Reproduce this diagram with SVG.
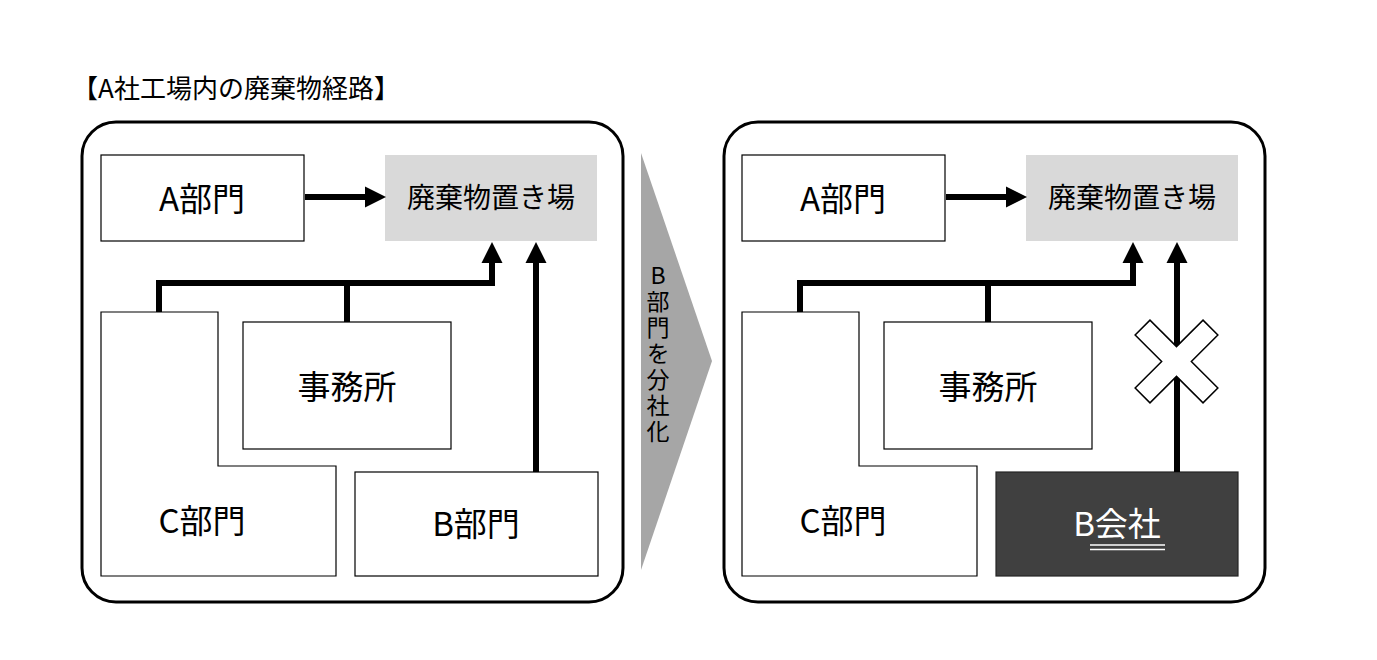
<svg xmlns="http://www.w3.org/2000/svg" width="1377" height="660" viewBox="0 0 1377 660">
<defs>
<style>
.t{font-family:"Noto Sans CJK JP","Noto Sans",sans-serif;fill:#000;}
.lbl{font-size:33px;text-anchor:middle;dominant-baseline:central;}
.glbl{font-size:28px;text-anchor:middle;dominant-baseline:central;}
.panel{fill:#fff;stroke:#000;stroke-width:3;}
.box{fill:#fff;stroke:#000;stroke-width:1.2;}
.gray{fill:#d9d9d9;stroke:none;}
.con{fill:none;stroke:#000;stroke-width:6;stroke-linejoin:miter;}
</style>
<marker id="ah" markerUnits="userSpaceOnUse" markerWidth="22" markerHeight="22" refX="0" refY="10.5" orient="auto" overflow="visible">
<path d="M0,0 L21,10.5 L0,21 Z" fill="#000"/>
</marker>
</defs>
<rect width="1377" height="660" fill="#fff"/>
<text class="t" x="236" y="86" font-size="26" text-anchor="middle" dominant-baseline="central">【A社工場内の廃棄物経路】</text>

<g id="panel-left">
<rect class="panel" x="82" y="122" width="541" height="480" rx="34"/>
</g>
<g id="left-a">
<rect class="box" x="101" y="155" width="203" height="86"/>
<text class="t lbl" x="202" y="197">A部門</text>
</g>
<g id="left-dump">
<rect class="gray" x="385" y="155" width="212" height="86"/>
<text class="t glbl" x="491" y="196">廃棄物置き場</text>
</g>
<g id="left-c">
<path class="box" d="M101,312 H218 V466 H336 V576 H101 Z"/>
<text class="t lbl" x="202" y="519">C部門</text>
</g>
<g id="left-office">
<rect class="box" x="243" y="322" width="208" height="127"/>
<text class="t lbl" x="347" y="385">事務所</text>
</g>
<g id="left-b">
<rect class="box" x="355" y="472" width="243" height="104"/>
<text class="t lbl" x="476" y="522">B部門</text>
</g>

<g id="transition">
<polygon points="641,153 712,361 641,570" fill="#a6a6a6"/>
<text class="t" x="658" y="355" font-size="23" text-anchor="middle" style="writing-mode:vertical-rl;text-orientation:upright;letter-spacing:3px">B部門を分社化</text>
</g>

<g id="panel-right">
<rect class="panel" x="724" y="122" width="541" height="480" rx="34"/>
</g>
<g id="right-a">
<rect class="box" x="742" y="155" width="203" height="86"/>
<text class="t lbl" x="843" y="197">A部門</text>
</g>
<g id="right-dump">
<rect class="gray" x="1026" y="155" width="212" height="86"/>
<text class="t glbl" x="1132" y="196">廃棄物置き場</text>
</g>
<g id="right-c">
<path class="box" d="M742,312 H859 V466 H977 V576 H742 Z"/>
<text class="t lbl" x="843" y="519">C部門</text>
</g>
<g id="right-office">
<rect class="box" x="884" y="322" width="208" height="127"/>
<text class="t lbl" x="988" y="385">事務所</text>
</g>
<g id="right-bco">
<rect x="996" y="472" width="242" height="104" fill="#404040" stroke="#262626" stroke-width="1.2"/>
<text class="t lbl" x="1117" y="522" style="fill:#fff">B会社</text>
<line x1="1090" y1="545" x2="1165" y2="545" stroke="#fff" stroke-width="1.6"/>
<line x1="1090" y1="549.5" x2="1165" y2="549.5" stroke="#fff" stroke-width="1.6"/>
</g>

<g id="connectors">
<path class="con" d="M305,197 H365" marker-end="url(#ah)"/>
<path class="con" d="M159,312 V283 H492 V263" marker-end="url(#ah)"/>
<path class="con" d="M347,322 V283"/>
<path class="con" d="M536,472 V263" marker-end="url(#ah)"/>
<path class="con" d="M946,197 H1006" marker-end="url(#ah)"/>
<path class="con" d="M800,312 V283 H1133 V263" marker-end="url(#ah)"/>
<path class="con" d="M988,322 V283"/>
<path class="con" d="M1177,472 V263" marker-end="url(#ah)"/>
</g>

<g id="cross">
<polygon transform="translate(1176.5,361.5) rotate(45)" points="-10.5,-48 10.5,-48 10.5,-10.5 48,-10.5 48,10.5 10.5,10.5 10.5,48 -10.5,48 -10.5,10.5 -48,10.5 -48,-10.5 -10.5,-10.5" fill="#fff" stroke="#000" stroke-width="1.5"/>
</g>
</svg>
